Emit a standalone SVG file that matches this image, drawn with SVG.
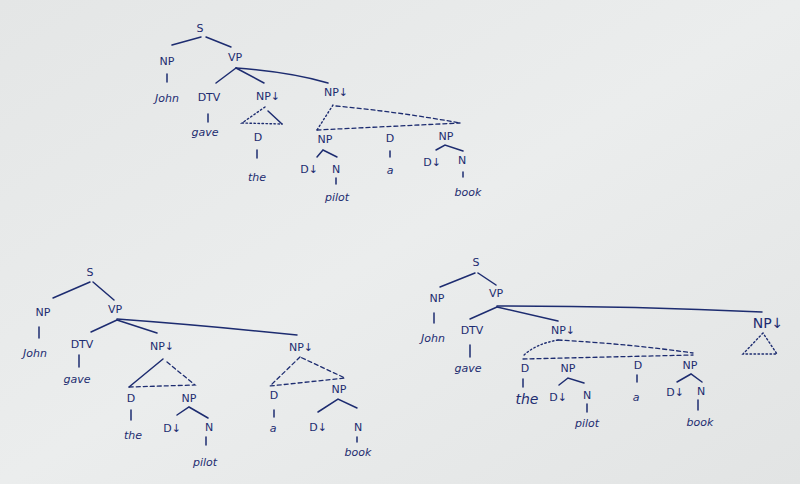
<svg xmlns="http://www.w3.org/2000/svg" width="800" height="484" viewBox="0 0 800 484">
<defs>
<linearGradient id="bg" x1="0" y1="0" x2="1" y2="1">
<stop offset="0" stop-color="#e4e6e6"/>
<stop offset="0.5" stop-color="#ebeded"/>
<stop offset="1" stop-color="#e2e4e4"/>
</linearGradient>
<style>
text{font-family:"DejaVu Sans","Liberation Sans",sans-serif;font-size:11px;fill:#1d2c70;text-anchor:middle;dominant-baseline:central}
.w{font-style:italic}
.big{font-size:14px}
line,path{stroke:#1d2c70;stroke-width:1.5;fill:none;stroke-linecap:round}
.d{stroke-dasharray:4 3;stroke-width:1.3}
.o{stroke-dasharray:1.5 2.5;stroke-width:1.4}
</style>
</defs>
<rect width="800" height="484" fill="url(#bg)"/>

<g id="connectors">
<!-- Tree 1 -->
<line x1="172" y1="45" x2="201" y2="37"/>
<line x1="206" y1="37" x2="231" y2="47"/>
<line x1="167" y1="74" x2="167" y2="82"/>
<line x1="236" y1="68" x2="216" y2="83"/>
<line x1="236" y1="68" x2="264" y2="83"/>
<path d="M236 68 Q290 72 328 83"/>
<line x1="208" y1="114" x2="208" y2="122"/>
<path class="o" d="M265 107 L242 123 L282 124"/>
<line x1="268" y1="111" x2="282" y2="124"/>
<line x1="257" y1="150" x2="257" y2="158"/>
<path class="o" d="M333 105 L317 130"/>
<path class="d" d="M336 106 Q400 112 460 123"/>
<path class="d" d="M317 130 L460 123"/>
<path d="M317 157 L323 150 L337 157"/>
<line x1="336" y1="178" x2="336" y2="184"/>
<line x1="390" y1="151" x2="390" y2="157"/>
<path d="M436 150 L445 145 L463 151"/>
<line x1="463" y1="172" x2="463" y2="177"/>
<!-- Tree 2 -->
<line x1="53" y1="298" x2="90" y2="282"/>
<line x1="93" y1="282" x2="114" y2="300"/>
<line x1="39" y1="327" x2="39" y2="338"/>
<line x1="117" y1="320" x2="91" y2="332"/>
<line x1="117" y1="320" x2="157" y2="333"/>
<path d="M117 319 Q200 325 297 335"/>
<line x1="79" y1="355" x2="79" y2="367"/>
<line x1="163" y1="359" x2="129" y2="387"/>
<path class="d" d="M167 362 L195 385 L129 387"/>
<line x1="131" y1="410" x2="131" y2="420"/>
<path d="M177 415 L189 407 L208 418"/>
<line x1="206" y1="437" x2="206" y2="445"/>
<path class="d" d="M300 357 L270 386 L345 378 Z"/>
<line x1="274" y1="410" x2="274" y2="417"/>
<path d="M318 412 L338 399 L357 408"/>
<line x1="357" y1="437" x2="357" y2="442"/>
<!-- Tree 3 -->
<line x1="440" y1="287" x2="475" y2="273"/>
<line x1="478" y1="273" x2="496" y2="285"/>
<line x1="434" y1="313" x2="434" y2="323"/>
<line x1="497" y1="307" x2="470" y2="319"/>
<line x1="497" y1="307" x2="558" y2="321"/>
<path d="M497 306 Q630 306 762 312"/>
<line x1="470" y1="345" x2="470" y2="357"/>
<path class="o" d="M558 340 Q535 344 523 356"/>
<path class="d" d="M558 340 Q630 344 693 353"/>
<path class="d" d="M523 359 L693 355"/>
<line x1="523" y1="379" x2="523" y2="387"/>
<path d="M559 385 L568 378 L584 383"/>
<line x1="587" y1="404" x2="587" y2="412"/>
<line x1="637" y1="375" x2="637" y2="382"/>
<path d="M677 382 L691 374 L702 382"/>
<line x1="698" y1="400" x2="698" y2="410"/>
<path class="o" d="M763 333 L743 354 L777 354 Z"/>
</g>

<!-- Tree 1 nodes -->
<g id="t1-S"><text x="200" y="28">S</text></g>
<g id="t1-NP"><text x="167" y="61">NP</text></g>
<g id="t1-John"><text class="w" x="167" y="98">John</text></g>
<g id="t1-VP"><text x="235" y="57">VP</text></g>
<g id="t1-DTV"><text x="209" y="97">DTV</text></g>
<g id="t1-gave"><text class="w" x="205" y="132">gave</text></g>
<g id="t1-NPsub1"><text x="268" y="96">NP↓</text></g>
<g id="t1-D1"><text x="258" y="137">D</text></g>
<g id="t1-the"><text class="w" x="257" y="177">the</text></g>
<g id="t1-NPsub2"><text x="336" y="92">NP↓</text></g>
<g id="t1-NP2"><text x="325" y="139">NP</text></g>
<g id="t1-Dsub1"><text x="309" y="169">D↓</text></g>
<g id="t1-N1"><text x="336" y="169">N</text></g>
<g id="t1-pilot"><text class="w" x="337" y="197">pilot</text></g>
<g id="t1-D2"><text x="390" y="138">D</text></g>
<g id="t1-a"><text class="w" x="390" y="170">a</text></g>
<g id="t1-NP3"><text x="446" y="136">NP</text></g>
<g id="t1-Dsub2"><text x="432" y="162">D↓</text></g>
<g id="t1-N2"><text x="462" y="160">N</text></g>
<g id="t1-book"><text class="w" x="468" y="192">book</text></g>

<!-- Tree 2 nodes -->
<g id="t2-S"><text x="90" y="272">S</text></g>
<g id="t2-NP"><text x="43" y="312">NP</text></g>
<g id="t2-John"><text class="w" x="35" y="353">John</text></g>
<g id="t2-VP"><text x="115" y="309">VP</text></g>
<g id="t2-DTV"><text x="82" y="344">DTV</text></g>
<g id="t2-gave"><text class="w" x="77" y="379">gave</text></g>
<g id="t2-NPsub1"><text x="162" y="346">NP↓</text></g>
<g id="t2-D1"><text x="131" y="398">D</text></g>
<g id="t2-the"><text class="w" x="133" y="435">the</text></g>
<g id="t2-NP2"><text x="189" y="398">NP</text></g>
<g id="t2-Dsub1"><text x="172" y="428">D↓</text></g>
<g id="t2-N1"><text x="209" y="427">N</text></g>
<g id="t2-pilot"><text class="w" x="205" y="462">pilot</text></g>
<g id="t2-NPsub2"><text x="301" y="347">NP↓</text></g>
<g id="t2-D2"><text x="274" y="395">D</text></g>
<g id="t2-a"><text class="w" x="273" y="428">a</text></g>
<g id="t2-NP3"><text x="339" y="389">NP</text></g>
<g id="t2-Dsub2"><text x="318" y="427">D↓</text></g>
<g id="t2-N2"><text x="358" y="427">N</text></g>
<g id="t2-book"><text class="w" x="358" y="452">book</text></g>

<!-- Tree 3 nodes -->
<g id="t3-S"><text x="476" y="262">S</text></g>
<g id="t3-NP"><text x="437" y="298">NP</text></g>
<g id="t3-John"><text class="w" x="433" y="338">John</text></g>
<g id="t3-VP"><text x="496" y="293">VP</text></g>
<g id="t3-DTV"><text x="472" y="330">DTV</text></g>
<g id="t3-gave"><text class="w" x="468" y="368">gave</text></g>
<g id="t3-NPsub1"><text x="563" y="330">NP↓</text></g>
<g id="t3-D1"><text x="525" y="368">D</text></g>
<g id="t3-the"><text class="w big" x="527" y="399">the</text></g>
<g id="t3-NP2"><text x="568" y="368">NP</text></g>
<g id="t3-Dsub1"><text x="558" y="397">D↓</text></g>
<g id="t3-N1"><text x="587" y="395">N</text></g>
<g id="t3-pilot"><text class="w" x="587" y="423">pilot</text></g>
<g id="t3-D2"><text x="638" y="365">D</text></g>
<g id="t3-a"><text class="w" x="636" y="397">a</text></g>
<g id="t3-NP3"><text x="690" y="365">NP</text></g>
<g id="t3-Dsub2"><text x="675" y="392">D↓</text></g>
<g id="t3-N2"><text x="701" y="391">N</text></g>
<g id="t3-book"><text class="w" x="700" y="422">book</text></g>
<g id="t3-NPsub2"><text class="big" x="768" y="323">NP↓</text></g>
</svg>
